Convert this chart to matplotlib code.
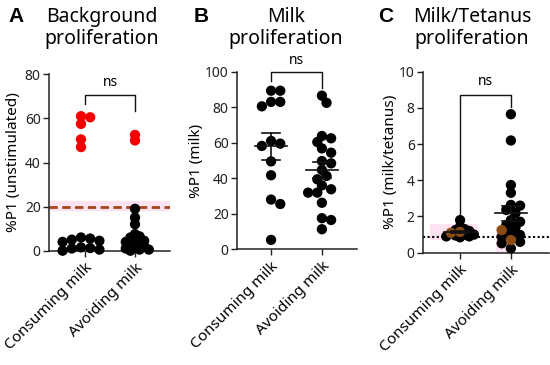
import numpy as np
import matplotlib.pyplot as plt
from matplotlib.patches import Rectangle

plt.rcParams['font.family'] = ['Noto Sans', 'DejaVu Sans']

groups = ['Consuming milk', 'Avoiding milk']

# A: background proliferation (%P1 unstimulated)
a_cons_red = [61, 60.5, 57.5, 50.5, 47]
a_cons = [6, 5.5, 5, 4.5, 4, 1.5, 1.2, 1, 0.5, 0]
a_avoid_red = [52.5, 50]
a_avoid = [19, 15, 12, 7.5, 6.5, 6, 5, 4.5, 4, 3, 2.5, 2, 1.5, 1, 0.5, 0.5, 0]
a_cutoff = 20

# B: milk proliferation (%P1 milk)
b_cons = [89.3, 89.3, 83, 83, 80.5, 61, 59.5, 58.2, 49.5, 41.7, 28, 25.5, 5.3]
b_avoid = [86.5, 82.5, 63.8, 62.5, 60.4, 56.8, 54.4, 49.7, 48.4, 44.7, 41.3, 39.4,
           36, 33.8, 31.9, 31.9, 26.2, 17.5, 16.5, 11.3]

# C: milk/tetanus ratio
c_cons = [1.8, 1.45, 1.3, 1.25, 1.2, 1.0, 1.0, 0.95, 0.9, 0.9, 0.85]
c_cons_brown = [1.15, 1.1]
c_avoid = [7.65, 6.2, 3.74, 3.31, 2.64, 2.6, 2.36, 2.18, 1.8, 1.71, 1.53, 1.4,
           1.07, 0.98, 0.88, 0.6, 0.52, 0.24]
c_avoid_brown = [1.25, 0.7]
c_baseline = 0.85

fig = plt.figure(figsize=(5.5, 3.65), dpi=100)
W, H = 550, 365


def px_axes(l, r, top, bot):
    return fig.add_axes([l / W, 1 - bot / H, (r - l) / W, (bot - top) / H])


def style(ax, ylim, yticks, xlim, ylabel, pad):
    ax.set_xlim(*xlim)
    ax.set_ylim(*ylim)
    ax.set_yticks(yticks)
    ax.set_xticks([0, 1])
    ax.set_xticklabels(groups, rotation=45, ha='right', rotation_mode='anchor', fontsize=11)
    ax.tick_params(axis='y', labelsize=10, length=4, width=1, colors='#222', pad=2)
    ax.tick_params(axis='x', length=4, width=1, colors='#222', pad=3)
    for t in ax.get_xticklabels():
        t.set_color('black')
    for s in ['top', 'right']:
        ax.spines[s].set_visible(False)
    for s in ['left', 'bottom']:
        ax.spines[s].set_linewidth(1.1)
        ax.spines[s].set_color('#222')
    ax.set_ylabel(ylabel, fontsize=11, labelpad=pad)


def swarm(ax, vals, center, gap, d_px=9.2):
    # column swarm like Prism's scatter dot plot (half-column steps)
    pos = ax.get_position()
    x0, x1 = ax.get_xlim()
    y0, y1 = ax.get_ylim()
    sx = pos.width * W / (x1 - x0)
    sy = pos.height * H / (y1 - y0)
    vals = np.asarray(vals, float)
    order = np.argsort(-vals)
    placed = []
    xs = np.zeros(len(vals))
    steps = [0]
    for k in range(1, 14):
        steps += [k, -k]
    for i in order:
        yp = vals[i] * sy
        for k in steps:
            xp = k * d_px / 2
            if all((xp - px) ** 2 + (yp - py) ** 2 >= (gap * d_px) ** 2 for px, py in placed):
                break
        placed.append((xp, yp))
        xs[i] = center + xp / sx
    return xs


def dots(ax, vals, center, colors, gap=0.8):
    xs = swarm(ax, vals, center, gap)
    ax.scatter(xs, vals, s=55, c=colors, edgecolors='none', zorder=3, clip_on=False)


def mean_sem(ax, vals, center):
    v = np.asarray(vals, float)
    m = v.mean()
    se = v.std(ddof=1) / np.sqrt(len(v))
    ax.plot([center - 0.32, center + 0.32], [m, m], color='#111', lw=1.2, zorder=4)
    ax.plot([center, center], [m - se, m + se], color='#111', lw=1.2, zorder=4)
    for yy in [m - se, m + se]:
        ax.plot([center - 0.17, center + 0.17], [yy, yy], color='#111', lw=1.2, zorder=4)


def bracket(ax, top, left_low, right_low, text_y):
    ax.plot([0, 0, 1, 1], [left_low, top, top, right_low], color='#111', lw=1, clip_on=False)
    ax.text(0.5, text_y, 'ns', ha='center', va='center', fontsize=10)


# ---------------- A ----------------
axA = px_axes(49, 170, 74.3, 250.7)
style(axA, (0, 80), [0, 20, 40, 60, 80], (-0.72, 1.7), '%P1 (unstimulated)', 3)
axA.axhspan(18.6, 22.4, color='#fde2f2', zorder=0)
axA.axhline(a_cutoff, color='#a5461c', lw=2, ls=(0, (3, 1.6)), zorder=2)
cons_all = a_cons_red + a_cons
dots(axA, cons_all, -0.08, ['#f40000'] * len(a_cons_red) + ['black'] * len(a_cons), gap=0.75)
avoid_all = a_avoid_red + a_avoid
dots(axA, avoid_all, 1.0, ['#f40000'] * len(a_avoid_red) + ['black'] * len(a_avoid), gap=0.55)
bracket(axA, 70.5, 66.5, 63.5, 76.5)

# ---------------- B ----------------
axB = px_axes(237, 357, 71.7, 249.3)
style(axB, (0, 100), [0, 20, 40, 60, 80, 100], (-0.67, 1.69), '%P1 (milk)', 1)
dots(axB, b_cons, 0, 'black')
dots(axB, b_avoid, 1, 'black')
mean_sem(axB, b_cons, 0)
mean_sem(axB, b_avoid, 1)
bracket(axB, 100, 94.5, 91, 106.5)

# ---------------- C ----------------
axC = px_axes(423, 549, 71.7, 252.7)
style(axC, (0, 10), [0, 2, 4, 6, 8, 10], (-0.73, 1.75), '%P1 (milk/tetanus)', 1)
axC.add_patch(Rectangle((-0.6, 0.7), 0.95, 0.9, color='#fde2f2', zorder=0, lw=0))
axC.add_patch(Rectangle((0.7, 0.05), 0.33, 1.35, color='#fde2f2', zorder=0, lw=0))
axC.axhline(c_baseline, color='black', lw=1.5, ls=(0, (1, 1.2)), zorder=2)
dots(axC, c_cons + c_cons_brown, 0, ['black'] * len(c_cons) + ['#8a4a14'] * len(c_cons_brown), gap=0.5)
dots(axC, c_avoid + c_avoid_brown, 1, ['black'] * len(c_avoid) + ['#8a4a14'] * len(c_avoid_brown), gap=0.7)
mean_sem(axC, c_cons + c_cons_brown, 0)
mean_sem(axC, c_avoid + c_avoid_brown, 1)
bracket(axC, 8.7, 2.0, 8.05, 9.45)

# panel titles
for letter, lx, title, tx in [('A', 16, 'Background\nproliferation', 102),
                              ('B', 201, 'Milk\nproliferation', 286),
                              ('C', 386, 'Milk/Tetanus\nproliferation', 472)]:
    fig.text(lx / W, 1 - 16 / H, letter, fontsize=15, fontweight='bold',
             family='Liberation Sans', ha='center', va='center')
    fig.text(tx / W, 1 - 28 / H, title, fontsize=14, ha='center', va='center',
             linespacing=1.1)

plt.savefig('out.png', dpi=100)
